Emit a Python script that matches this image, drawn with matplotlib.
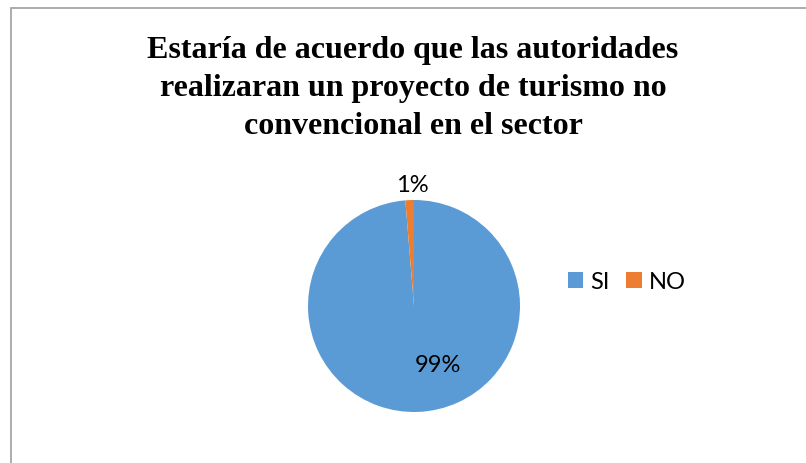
import matplotlib
matplotlib.use("Agg")
import matplotlib.pyplot as plt
from matplotlib.patches import Rectangle

categories = ["SI", "NO"]
values = [98.7, 1.3]
pct_labels = ["99%", "1%"]
colors = ["#5B9BD5", "#ED7D31"]
title = "Estaría de acuerdo que las autoridades\nrealizaran un proyecto de turismo no\nconvencional en el sector"

W, H = 806, 464
fig = plt.figure(figsize=(W / 100, H / 100), dpi=100)
fig.patch.set_facecolor("white")

# chart frame (cropped at right and bottom)
fig.patches.append(Rectangle((10.5 / W, -0.1), 1.2, 1 - 8.7 / H + 0.1,
                             transform=fig.transFigure, fill=False,
                             edgecolor="#A6A6A6", lw=1.3))

fig.text(413 / W, 1 - 88.5 / H, title, ha="center", va="center",
         family="Liberation Serif", fontweight="bold", fontsize=23,
         linespacing=1.41)

cx, cy, r = 414, 307, 106
ax = fig.add_axes([(cx - r) / W, (H - cy - r) / H, 2 * r / W, 2 * r / H])
wedges, _ = ax.pie(values, colors=colors, startangle=90, counterclock=False,
                   radius=1.0, wedgeprops=dict(linewidth=0))
ax.set_xlim(-1, 1)
ax.set_ylim(-1, 1)
ax.set_aspect("auto")
ax.axis("off")

label_pos = [(0.23, -0.55), (-0.02, 1.15)]
for (x, y), t in zip(label_pos, pct_labels):
    ax.text(x, y, t, ha="center", va="center", family="Lato", fontsize=17,
            color="#000000")

fig.legend(wedges, categories, loc="center", bbox_to_anchor=(627 / W, 1 - 283 / H),
           ncol=2, frameon=False, prop=dict(family="Lato", size=17),
           handlelength=0.65, handleheight=0.65, handletextpad=0.3,
           columnspacing=0.7)

fig.savefig("out.png", dpi=100)
